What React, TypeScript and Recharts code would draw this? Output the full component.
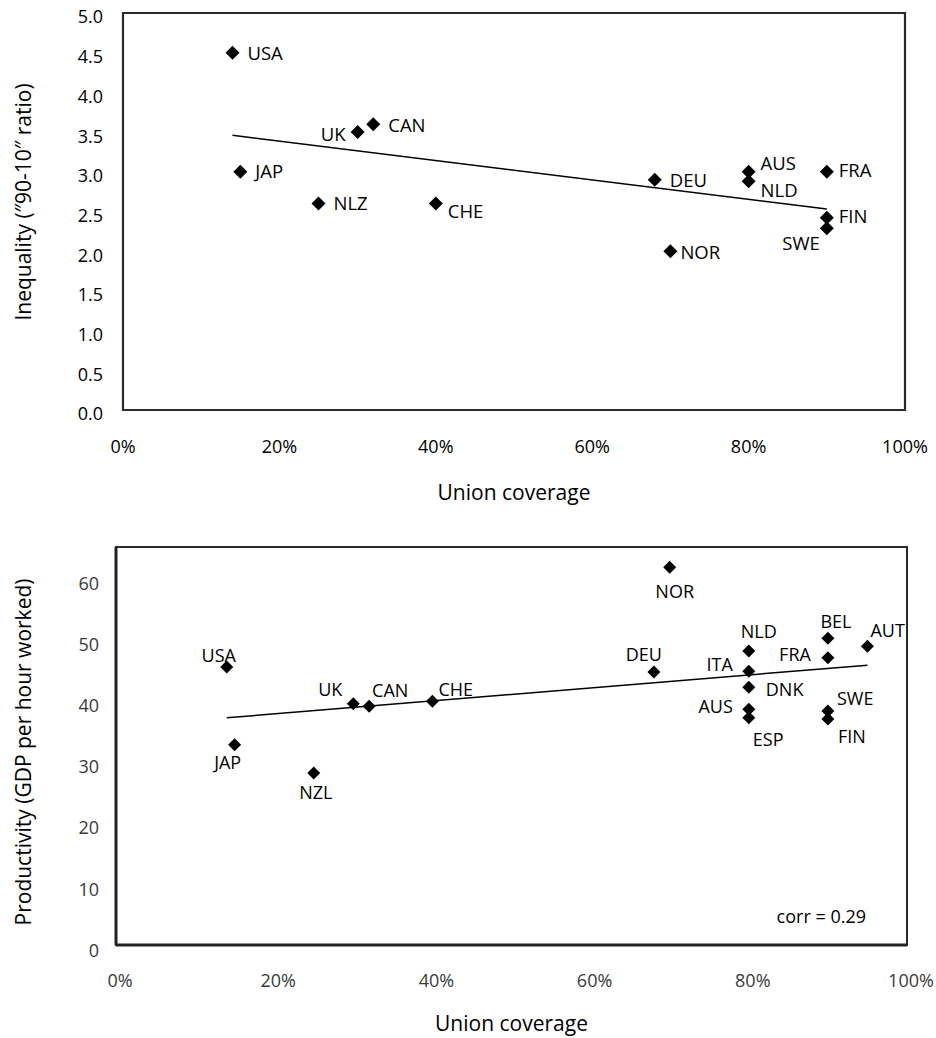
import React from 'react';
import {
  ScatterChart,
  Scatter,
  XAxis,
  YAxis,
  ReferenceArea,
  ReferenceLine,
  Label,
} from 'recharts';

// ---------- DATA: top chart (Inequality vs union coverage) ----------
const topCountries = ['USA', 'JAP', 'NLZ', 'UK', 'CAN', 'CHE', 'DEU', 'AUS', 'NLD', 'FRA', 'FIN', 'SWE', 'NOR'];
const topCoverage = [0.14, 0.15, 0.25, 0.30, 0.32, 0.40, 0.68, 0.80, 0.80, 0.90, 0.90, 0.90, 0.70];
const topInequality = [4.5, 3.0, 2.6, 3.5, 3.6, 2.6, 2.9, 3.0, 2.88, 3.0, 2.42, 2.29, 2.0];
const topTrendX = [0.14, 0.90];
const topTrendY = [3.46, 2.53];
const topYTicks = [0, 0.5, 1, 1.5, 2, 2.5, 3, 3.5, 4, 4.5, 5];

// ---------- DATA: bottom chart (Productivity vs union coverage) ----------
const bottomCountries = ['USA', 'JAP', 'NZL', 'UK', 'CAN', 'CHE', 'NOR', 'DEU', 'NLD', 'ITA', 'DNK', 'AUS', 'ESP', 'BEL', 'FRA', 'SWE', 'FIN', 'AUT'];
const bottomCoverage = [0.14, 0.15, 0.25, 0.30, 0.32, 0.40, 0.70, 0.68, 0.80, 0.80, 0.80, 0.80, 0.80, 0.90, 0.90, 0.90, 0.90, 0.95];
const bottomProductivity = [45.4, 32.7, 28.1, 39.4, 39.0, 39.8, 61.7, 44.6, 48.0, 44.7, 42.1, 38.5, 37.1, 50.1, 46.9, 38.2, 36.9, 48.8];
const bottomTrendX = [0.14, 0.95];
const bottomTrendY = [37.1, 45.7];
const bottomYTicks = [0, 10, 20, 30, 40, 50, 60];

const xTicks = [0, 0.2, 0.4, 0.6, 0.8, 1];
const xTitle = 'Union coverage';
const topYTitle = 'Inequality (\u201390-10\u2033 ratio)'.replace('\u2013', '\u2033');
const bottomYTitle = 'Productivity (GDP per hour worked)';
const corrText = 'corr = 0.29';

// ---------- label placement (style, not data) ----------
type Place = [number, number, 'start' | 'middle' | 'end'];
const topPlace: Record<string, Place> = {
  USA: [15, 1, 'start'],
  JAP: [15, 0, 'start'],
  NLZ: [15, 0, 'start'],
  UK: [-12, 2, 'end'],
  CAN: [15, 1, 'start'],
  CHE: [12, 8, 'start'],
  DEU: [15, 1, 'start'],
  AUS: [12, -8, 'start'],
  NLD: [12, 9, 'start'],
  FRA: [12, -1, 'start'],
  FIN: [12, -1, 'start'],
  SWE: [-7, 15, 'end'],
  NOR: [10, 1, 'start'],
};
const bottomPlace: Record<string, Place> = {
  USA: [-8, -11, 'middle'],
  JAP: [-7, 18, 'middle'],
  NZL: [2, 20, 'middle'],
  UK: [-11, -14, 'end'],
  CAN: [3, -16, 'start'],
  CHE: [6, -12, 'start'],
  NOR: [5, 24, 'middle'],
  DEU: [-10, -17, 'middle'],
  NLD: [10, -20, 'middle'],
  ITA: [-16, -7, 'end'],
  DNK: [17, 2, 'start'],
  AUS: [-16, -3, 'end'],
  ESP: [4, 22, 'start'],
  BEL: [8, -17, 'middle'],
  FRA: [-17, -3, 'end'],
  SWE: [9, -13, 'start'],
  FIN: [10, 18, 'start'],
  AUT: [3, -16, 'start'],
};

const FONT = "'Open Sans', 'Noto Sans', sans-serif";

const topData = topCountries.map((name, i) => ({ name, x: topCoverage[i], y: topInequality[i] }));
const bottomData = bottomCountries.map((name, i) => ({ name, x: bottomCoverage[i], y: bottomProductivity[i] }));

const makeShape = (half: number, place: Record<string, Place>, fontSize: number) => (props: any) => {
  const { cx, cy, payload } = props;
  if (cx == null || cy == null) return <g />;
  const p = place[payload.name] || [12, 0, 'start'];
  return (
    <g>
      <polygon
        points={`${cx},${cy - half} ${cx + half},${cy} ${cx},${cy + half} ${cx - half},${cy}`}
        fill="#000"
      />
      <text
        x={cx + p[0]}
        y={cy + p[1]}
        dy="0.357em"
        textAnchor={p[2]}
        fontSize={fontSize}
        fontFamily={FONT}
        fill="#000"
      >
        {payload.name}
      </text>
    </g>
  );
};

const makeXTick = (fill: string, dx: number) => (props: any) => {
  const { x, y, payload } = props;
  return (
    <text x={x + dx} y={y} dy="0.357em" textAnchor="middle" fontSize={18} fontFamily={FONT} fill={fill}>
      {`${Math.round(payload.value * 100)}%`}
    </text>
  );
};

const makeYTick = (fill: string, dy: number, fmt: (v: number) => string) => (props: any) => {
  const { x, y, payload } = props;
  return (
    <text x={x} y={y + dy} dy="0.357em" textAnchor="end" fontSize={18} fontFamily={FONT} fill={fill}>
      {fmt(payload.value)}
    </text>
  );
};

// layout constants
const W = 936;
const T = { h: 520, left: 123, right: 905, top: 13, bottom: 410 };
const B = { h: 518, left: 116, right: 907, top: 27, bottom: 425 };

const TopChart = () => (
  <ScatterChart
    width={W}
    height={T.h}
    margin={{ top: T.top, right: W - T.right, bottom: 0, left: 0 }}
  >
    <XAxis
      type="number"
      dataKey="x"
      domain={[0, 1]}
      ticks={xTicks}
      axisLine={false}
      tickLine={false}
      tickSize={0}
      tickMargin={37}
      height={T.h - T.bottom}
      tick={makeXTick('#000', 0)}
      interval={0}
    >
      <Label
        content={() => (
          <text x={(T.left + T.right) / 2} y={500} textAnchor="middle" fontSize={21} fontFamily={FONT} fill="#000">
            {xTitle}
          </text>
        )}
      />
    </XAxis>
    <YAxis
      type="number"
      dataKey="y"
      domain={[0, 5]}
      ticks={topYTicks}
      axisLine={false}
      tickLine={false}
      tickSize={0}
      tickMargin={20}
      width={T.left}
      tick={makeYTick('#000', 4, (v) => v.toFixed(1))}
      interval={0}
    >
      <Label
        content={() => (
          <text
            x={24}
            y={202}
            dy="0.357em"
            textAnchor="middle"
            fontSize={21}
            fontFamily={FONT}
            fill="#000"
            transform="rotate(-90 24 202)"
          >
            {topYTitle}
          </text>
        )}
      />
    </YAxis>
    <ReferenceArea x1={0} x2={1} y1={0} y2={5} fill="none" fillOpacity={0} stroke="#2a2a2a" strokeWidth={2.2} />
    <ReferenceLine
      segment={[
        { x: topTrendX[0], y: topTrendY[0] },
        { x: topTrendX[1], y: topTrendY[1] },
      ]}
      stroke="#000"
      strokeWidth={1.5}
    />
    <Scatter data={topData} isAnimationActive={false} shape={makeShape(7, topPlace, 18.5)} />
  </ScatterChart>
);

const BottomChart = () => (
  <ScatterChart
    width={W}
    height={B.h}
    margin={{ top: B.top, right: W - B.right, bottom: 0, left: 0 }}
  >
    <XAxis
      type="number"
      dataKey="x"
      domain={[0, 1]}
      ticks={xTicks}
      axisLine={{ stroke: '#222', strokeWidth: 3 }}
      tickLine={false}
      tickSize={0}
      tickMargin={36}
      height={B.h - B.bottom}
      tick={makeXTick('#3a3a3a', 4)}
      interval={0}
    >
      <Label
        content={() => (
          <text x={(B.left + B.right) / 2} y={B.h - 6 - 1} textAnchor="middle" fontSize={21} fontFamily={FONT} fill="#000">
            {xTitle}
          </text>
        )}
      />
    </XAxis>
    <YAxis
      type="number"
      dataKey="y"
      domain={[0, 65]}
      ticks={bottomYTicks}
      axisLine={{ stroke: '#222', strokeWidth: 3 }}
      tickLine={false}
      tickSize={0}
      tickMargin={17}
      width={B.left}
      tick={makeYTick('#3a3a3a', 5.5, (v) => String(v))}
      interval={0}
    >
      <Label
        content={() => (
          <text
            x={24}
            y={232}
            dy="0.357em"
            textAnchor="middle"
            fontSize={21}
            fontFamily={FONT}
            fill="#000"
            transform="rotate(-90 24 232)"
          >
            {bottomYTitle}
          </text>
        )}
      />
    </YAxis>
    <ReferenceArea
      x1={0}
      x2={1}
      y1={0}
      y2={65}
      fill="none"
      fillOpacity={0}
      stroke="#2a2a2a"
      strokeWidth={2}
      label={(p: any) => {
        const vb = p && p.viewBox ? p.viewBox : { x: B.left, y: B.top, width: B.right - B.left, height: 398 };
        return (
          <text
            x={vb.x + vb.width - 41}
            y={vb.y + vb.height - 28}
            dy="0.357em"
            textAnchor="end"
            fontSize={18}
            fontFamily={FONT}
            fill="#000"
          >
            {corrText}
          </text>
        );
      }}
    />
    <ReferenceLine
      segment={[
        { x: bottomTrendX[0], y: bottomTrendY[0] },
        { x: bottomTrendX[1], y: bottomTrendY[1] },
      ]}
      stroke="#000"
      strokeWidth={1.5}
    />
    <Scatter data={bottomData} isAnimationActive={false} shape={makeShape(6.5, bottomPlace, 18)} />
  </ScatterChart>
);

export default function App() {
  return (
    <div style={{ position: 'absolute', left: 0, top: 0, width: W, height: 1038, background: '#fff' }}>
      <TopChart />
      <BottomChart />
    </div>
  );
}
